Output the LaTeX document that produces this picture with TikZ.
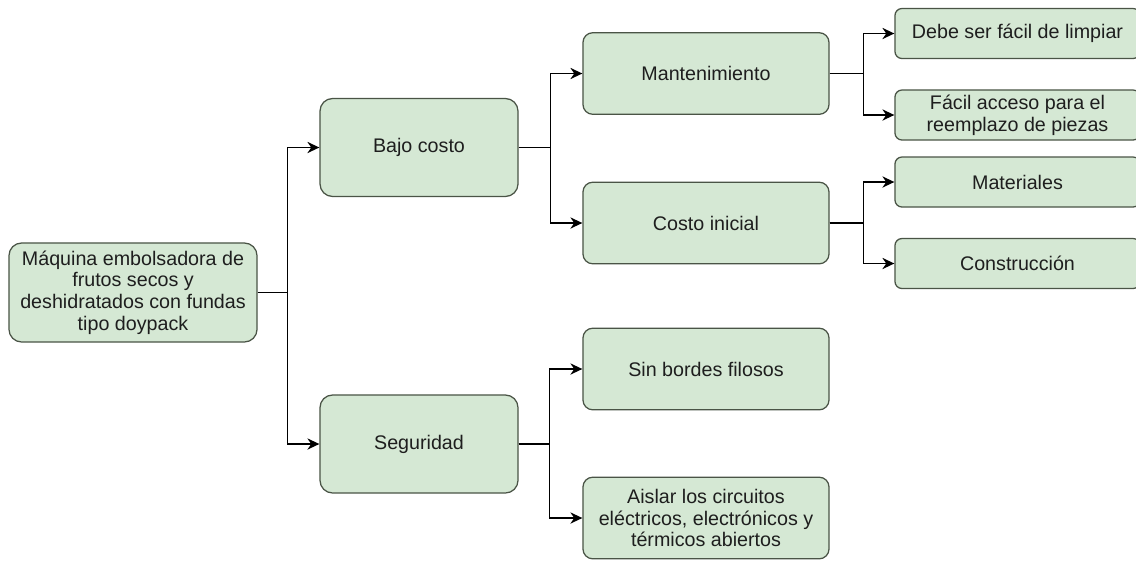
\documentclass[tikz,border=0pt]{standalone}
\usepackage{fontspec}
\setmainfont{Liberation Sans}
\usetikzlibrary
  {
    arrows.meta, % Stealth tips
  }
\definecolor{boxfill}{HTML}{D5E8D4}
\definecolor{boxline}{HTML}{4A5446}
\definecolor{inkgray}{HTML}{1E1E1E}

\begin{document}
\begin{tikzpicture}[x=0.025cm, y=-0.025cm,
    box/.style={draw=boxline, fill=boxfill, line width=0.9pt, align=center,
      text=inkgray, inner sep=0pt, font=\fontsize{14}{15.5}\selectfont},
    rootbox/.style={box, rounded corners=9pt, minimum width=6.2cm, minimum height=2.475cm},
    goalbox/.style={box, rounded corners=9pt, minimum width=4.95cm, minimum height=2.45cm},
    subbox/.style={box, rounded corners=7pt, minimum width=6.15cm, minimum height=2.04cm},
    leafbox/.style={box, rounded corners=5pt, minimum width=6.125cm, minimum height=1.25cm},
    link/.style={draw=black, line width=1.1pt, -{Stealth[length=8.5pt,width=8pt]}},
  ]
    \useasboundingbox (0,0) rectangle (1136,561);

    \node (root) [rootbox] at (133,292.5)
      {Máquina embolsadora de\\frutos secos y\\deshidratados con fundas\\tipo doypack};

    \node (bajo) [goalbox] at (419,147.5) {Bajo costo};
    \node (seg)  [goalbox] at (419,444) {Seguridad};

    \node (mant)   [subbox] at (706,73.5) {Mantenimiento};
    \node (costo)  [subbox] at (706,223) {Costo inicial};
    \node (bordes) [subbox] at (706,369) {Sin bordes filosos};
    \node (aislar) [subbox] at (706,518)
      {Aislar los circuitos\\eléctricos, electrónicos y\\térmicos abiertos};

    \node (limpiar)   [leafbox] at (1017.5,33.5) {Debe ser fácil de limpiar};
    \node (acceso)    [leafbox] at (1017.5,115) {Fácil acceso para el\\reemplazo de piezas};
    \node (material)  [leafbox] at (1017.5,182) {Materiales};
    \node (construye) [leafbox] at (1017.5,263.5) {Construcción};

    % first level
    \draw[link] (root.east) -- ++(30,0) |- (bajo.west);
    \draw[link] (root.east) -- ++(30,0) |- (seg.west);

    % second level
    \draw[link] (bajo.east) -- ++(32,0) |- (mant.west);
    \draw[link] (bajo.east) -- ++(32,0) |- (costo.west);
    \draw[link] (seg.east) -- ++(31,0) |- (bordes.west);
    \draw[link] (seg.east) -- ++(31,0) |- (aislar.west);

    % third level
    \draw[link] (mant.east) -- ++(34,0) |- (limpiar.west);
    \draw[link] (mant.east) -- ++(34,0) |- (acceso.west);
    \draw[link] (costo.east) -- ++(34,0) |- (material.west);
    \draw[link] (costo.east) -- ++(34,0) |- (construye.west);
\end{tikzpicture}
\end{document}
